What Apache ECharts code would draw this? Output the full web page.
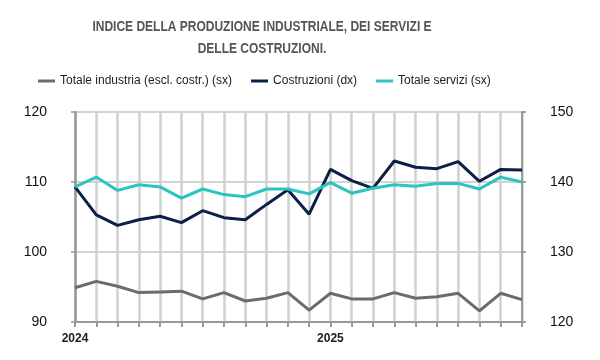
<!DOCTYPE html>
<html>
<head>
<meta charset="utf-8">
<script src="https://cdn.jsdelivr.net/npm/echarts@6/dist/echarts.min.js"></script>
<style>
html,body{margin:0;padding:0;background:#fff;}
#c{width:600px;height:360px;}
</style>
</head>
<body>
<div id="c"></div>
<script>
const categories = ["2024-01","2024-02","2024-03","2024-04","2024-05","2024-06","2024-07","2024-08","2024-09","2024-10","2024-11","2024-12",
  "2025-01","2025-02","2025-03","2025-04","2025-05","2025-06","2025-07","2025-08","2025-09","2025-10"];
const industria = [94.9,95.8,95.1,94.2,94.3,94.4,93.3,94.2,93.0,93.4,94.2,91.7,94.1,93.3,93.3,94.2,93.4,93.6,94.1,91.6,94.1,93.2];
const costruzioni = [139.3,135.3,133.8,134.6,135.1,134.2,135.9,134.9,134.6,136.8,138.9,135.4,141.8,140.2,139.1,143.0,142.1,141.9,142.9,140.1,141.8,141.7];
const servizi = [109.3,110.7,108.8,109.6,109.3,107.7,109.0,108.2,107.9,109.0,109.0,108.3,109.9,108.4,109.1,109.6,109.4,109.8,109.8,109.0,110.7,110.0];
const leftTicks = {min:90, max:120, interval:10};
const rightTicks = {min:120, max:150, interval:10};
const titleText = "INDICE DELLA PRODUZIONE INDUSTRIALE, DEI SERVIZI E\nDELLE COSTRUZIONI.";
const names = ["Totale industria (escl. costr.) (sx)","Costruzioni (dx)","Totale servizi (sx)"];
const colors = ["#6b6b6b","#0c1f47","#2cc4be"];

const chart = echarts.init(document.getElementById('c'), null, {renderer:'canvas'});
const font = "'Liberation Sans',Arial,sans-serif";
chart.setOption({
  animation:false,
  backgroundColor:'#fff',
  graphic:[{
    type:'text', x:262, y:16, scaleX:0.8,
    style:{text:titleText, fill:'#555', font:"bold 15px 'Liberation Sans',Arial,sans-serif", textAlign:'center', textVerticalAlign:'top', lineHeight:22}
  }],
  legend:{
    top:70, left:33, itemGap:19, itemWidth:17, itemHeight:3, icon:'rect',
    textStyle:{fontFamily:font, fontSize:12, color:'#222'},
    data:names
  },
  grid:{left:75, right:78, top:112, bottom:38, containLabel:false},
  xAxis:{
    type:'category', data:categories, boundaryGap:false,
    axisLine:{lineStyle:{color:'#999', width:2}},
    axisTick:{show:true, interval:0, length:5, lineStyle:{color:'#999', width:2}},
    axisLabel:{interval:0, margin:11, fontFamily:font, fontSize:12, fontWeight:'bold', color:'#222',
      formatter:function(v){return v.endsWith('-01') ? v.slice(0,4) : '';}},
    splitLine:{show:true, interval:0, lineStyle:{color:'#d0d0d0', width:2.5}}
  },
  yAxis:[
    {type:'value', min:leftTicks.min, max:leftTicks.max, interval:leftTicks.interval, position:'left',
      axisLine:{show:true, lineStyle:{color:'#999', width:2.5}},
      axisTick:{show:true, length:4, lineStyle:{color:'#999', width:1.5}},
      axisLabel:{margin:28, fontFamily:font, fontSize:14, color:'#111'},
      splitLine:{show:true, lineStyle:{color:'#c4c4c4', width:1.5}}},
    {type:'value', min:rightTicks.min, max:rightTicks.max, interval:rightTicks.interval, position:'right',
      axisLine:{show:true, lineStyle:{color:'#888', width:1.5}},
      axisTick:{show:true, length:4, lineStyle:{color:'#888', width:1.5}},
      axisLabel:{margin:28, fontFamily:font, fontSize:14, color:'#111'},
      splitLine:{show:false}}
  ],
  series:[
    {name:names[0], type:'line', yAxisIndex:0, data:industria, showSymbol:false, lineStyle:{color:colors[0], width:3}, itemStyle:{color:colors[0]}, z:3},
    {name:names[1], type:'line', yAxisIndex:1, data:costruzioni, showSymbol:false, lineStyle:{color:colors[1], width:3}, itemStyle:{color:colors[1]}, z:4},
    {name:names[2], type:'line', yAxisIndex:0, data:servizi, showSymbol:false, lineStyle:{color:colors[2], width:3}, itemStyle:{color:colors[2]}, z:5}
  ]
});
</script>
</body>
</html>
